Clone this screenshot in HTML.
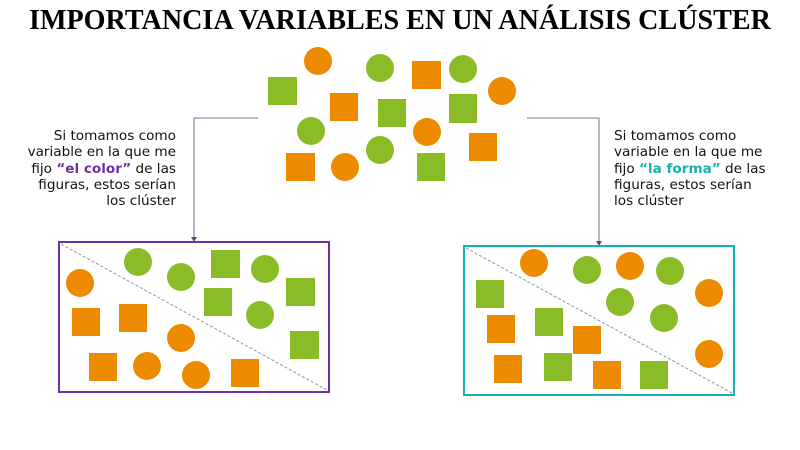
<!DOCTYPE html>
<html><head><meta charset="utf-8"><style>
html,body{margin:0;padding:0;background:#fff;}
svg{display:block}
</style></head><body>
<svg width="800" height="450" viewBox="0 0 800 450" xmlns="http://www.w3.org/2000/svg">
<text x="400" y="29" text-anchor="middle" font-family="Liberation Serif, serif" font-weight="bold" font-size="29" textLength="742" lengthAdjust="spacingAndGlyphs" fill="#000">IMPORTANCIA VARIABLES EN UN ANÁLISIS CLÚSTER</text>

<g fill="#EE8A00">
<circle cx="318" cy="61" r="14"/><circle cx="502" cy="91" r="14"/><circle cx="427" cy="132" r="14"/><circle cx="345" cy="167" r="14"/>
<rect x="412" y="61" width="29" height="28"/><rect x="330" y="93" width="28" height="28"/><rect x="469" y="133" width="28" height="28"/><rect x="286" y="153" width="29" height="28"/>
</g>
<g fill="#8ABC28">
<circle cx="380" cy="68" r="14"/><circle cx="463" cy="69" r="14"/><circle cx="311" cy="131" r="14"/><circle cx="380" cy="150" r="14"/>
<rect x="268" y="77" width="29" height="28"/><rect x="378" y="99" width="28" height="28"/><rect x="449" y="94" width="28" height="29"/><rect x="417" y="153" width="28" height="28"/>
</g>

<g stroke="#8a94a6" stroke-width="1.3" fill="none">
<polyline points="258,118 194,118 194,238"/>
<polyline points="527,118 599,118 599,242"/>
</g>
<polygon points="191,237 197,237 194,242" fill="#4a5468"/>
<polygon points="596,241 602,241 599,246" fill="#4a5468"/>

<g font-family="DejaVu Sans, Verdana, sans-serif" font-size="13.6" fill="#111">
<text x="176" y="140" text-anchor="end">Si tomamos como</text>
<text x="176" y="156" text-anchor="end">variable en la que me</text>
<text x="176" y="173" text-anchor="end">fijo <tspan fill="#7030A0" font-weight="bold">“el color”</tspan> de las</text>
<text x="176" y="189" text-anchor="end">figuras, estos serían</text>
<text x="176" y="205" text-anchor="end">los clúster</text>
<text x="614" y="140">Si tomamos como</text>
<text x="614" y="156">variable en la que me</text>
<text x="614" y="173">fijo <tspan fill="#17B0B0" font-weight="bold">“la forma”</tspan> de las</text>
<text x="614" y="189">figuras, estos serían</text>
<text x="614" y="205">los clúster</text>
</g>

<rect x="59" y="242" width="270" height="150" fill="none" stroke="#7030A0" stroke-width="2"/>
<line x1="61" y1="244" x2="327" y2="390" stroke="#8a94a6" stroke-width="1" stroke-dasharray="3,2"/>
<g fill="#8ABC28">
<circle cx="138" cy="262" r="14"/><circle cx="181" cy="277" r="14"/><circle cx="265" cy="269" r="14"/><circle cx="260" cy="315" r="14"/>
<rect x="211" y="250" width="29" height="28"/><rect x="286" y="278" width="29" height="28"/><rect x="204" y="288" width="28" height="28"/><rect x="290" y="331" width="29" height="28"/>
</g>
<g fill="#EE8A00">
<circle cx="80" cy="283" r="14"/><circle cx="181" cy="338" r="14"/><circle cx="147" cy="366" r="14"/><circle cx="196" cy="375" r="14"/>
<rect x="72" y="308" width="28" height="28"/><rect x="119" y="304" width="28" height="28"/><rect x="89" y="353" width="28" height="28"/><rect x="231" y="359" width="28" height="28"/>
</g>

<rect x="464" y="246" width="270" height="149" fill="none" stroke="#17B0B0" stroke-width="2"/>
<line x1="466" y1="248" x2="732" y2="393" stroke="#8a94a6" stroke-width="1" stroke-dasharray="3,2"/>
<g fill="#EE8A00">
<circle cx="534" cy="263" r="14"/><circle cx="630" cy="266" r="14"/><circle cx="709" cy="293" r="14"/><circle cx="709" cy="354" r="14"/>
<rect x="487" y="315" width="28" height="28"/><rect x="573" y="326" width="28" height="28"/><rect x="494" y="355" width="28" height="28"/><rect x="593" y="361" width="28" height="28"/>
</g>
<g fill="#8ABC28">
<circle cx="587" cy="270" r="14"/><circle cx="670" cy="271" r="14"/><circle cx="620" cy="302" r="14"/><circle cx="664" cy="318" r="14"/>
<rect x="476" y="280" width="28" height="28"/><rect x="535" y="308" width="28" height="28"/><rect x="544" y="353" width="28" height="28"/><rect x="640" y="361" width="28" height="28"/>
</g>
</svg>
</body></html>
